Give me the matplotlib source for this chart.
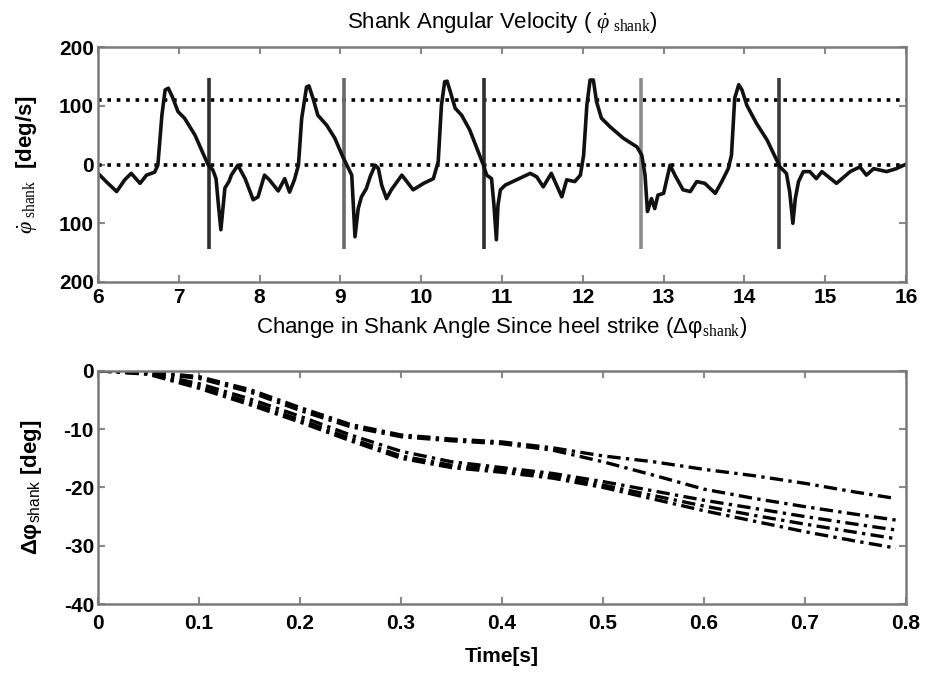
import matplotlib
matplotlib.use("Agg")
import matplotlib.pyplot as plt

plt.rcParams["font.family"] = ["Liberation Sans", "DejaVu Sans"]
plt.rcParams["mathtext.fontset"] = "custom"
plt.rcParams["mathtext.rm"] = "Liberation Serif"
plt.rcParams["mathtext.it"] = "Liberation Serif:italic"
plt.rcParams["mathtext.sf"] = "Liberation Sans"
plt.rcParams["axes.unicode_minus"] = False

# top panel: shank angular velocity trace (deg/s)
vel_t = [6.00, 6.10, 6.23, 6.33, 6.41, 6.52, 6.60, 6.70, 6.74, 6.79, 6.83, 6.87,
         6.92, 6.99, 7.07, 7.20, 7.28, 7.36, 7.42, 7.46, 7.49, 7.52, 7.55, 7.57,
         7.62, 7.65, 7.73, 7.82, 7.92, 7.98, 8.06, 8.12, 8.23, 8.31, 8.37, 8.43,
         8.48, 8.52, 8.58, 8.61, 8.66, 8.72, 8.83, 8.93, 9.03, 9.09, 9.14, 9.16,
         9.18, 9.22, 9.26, 9.32, 9.37, 9.43, 9.47, 9.51, 9.57, 9.63, 9.76, 9.90,
         10.03, 10.15, 10.21, 10.25, 10.29, 10.32, 10.36, 10.42, 10.50, 10.60, 10.69, 10.77,
         10.81, 10.87, 10.90, 10.93, 10.95, 10.98, 11.04, 11.18, 11.35, 11.43, 11.51, 11.61,
         11.70, 11.74, 11.80, 11.90, 11.97, 12.01, 12.05, 12.09, 12.13, 12.17, 12.23, 12.34,
         12.50, 12.67, 12.73, 12.77, 12.80, 12.85, 12.89, 12.93, 13.00, 13.08, 13.14, 13.24,
         13.33, 13.41, 13.51, 13.64, 13.72, 13.80, 13.84, 13.88, 13.93, 13.97, 14.03, 14.15,
         14.28, 14.38, 14.44, 14.52, 14.56, 14.60, 14.63, 14.67, 14.73, 14.81, 14.89, 14.96,
         15.14, 15.31, 15.43, 15.51, 15.60, 15.76, 15.88, 15.99]
vel = [-15, -29, -46, -26, -15, -32, -18, -13, -1, 84, 127, 130,
       115, 90, 79, 50, 25, 0, -9, -24, -69, -111, -69, -40,
       -29, -18, -1, -24, -60, -55, -18, -26, -45, -24, -47, -26,
       -1, 78, 132, 134, 113, 84, 67, 45, 13, -4, -18, -69,
       -123, -75, -55, -41, -20, -1, -7, -35, -58, -43, -18, -43,
       -32, -24, 5, 101, 141, 142, 124, 96, 84, 59, 27, -1,
       -18, -24, -69, -128, -69, -43, -35, -26, -15, -21, -38, -15,
       -43, -55, -26, -29, -18, 16, 101, 144, 144, 107, 79, 64,
       45, 30, 16, -18, -80, -58, -75, -52, -49, -1, -18, -43,
       -46, -29, -32, -49, -29, -7, 16, 113, 136, 127, 101, 70,
       42, 13, -4, -15, -46, -100, -58, -29, -12, -12, -24, -12,
       -32, -12, -4, -18, -7, -12, -7, 0]

thresholds = [110, 0]
strike_t = [7.37, 9.05, 10.78, 12.72, 14.43]
strike_colors = ["#2e2e2e", "#6a6a6a", "#2e2e2e", "#8c8c8c", "#3c3c3c"]

# bottom panel: change in shank angle since heel strike (deg)
dphi_t = [0, 0.05, 0.10, 0.15, 0.20, 0.25, 0.30, 0.35, 0.40, 0.45, 0.50,
          0.55, 0.60, 0.65, 0.70, 0.75, 0.79]
step_a = [0, -0.2, -1.0, -3.2, -6.3, -9.2, -11.0, -11.7, -12.2, -13.2, -14.6,
          -15.6, -16.9, -18.0, -19.3, -20.8, -21.9]
step_b = [0, -0.3, -1.3, -3.6, -6.8, -9.6, -11.3, -12.0, -12.5, -13.6, -15.6,
          -17.9, -20.3, -21.9, -23.3, -24.6, -25.6]
step_c = [0, -0.4, -2.2, -4.8, -7.8, -11.0, -13.8, -15.6, -16.6, -17.6, -19.0,
          -20.6, -22.2, -23.6, -25.0, -26.3, -27.3]
step_d = [0, -0.5, -2.7, -5.4, -8.4, -11.6, -14.6, -16.2, -17.0, -18.0, -19.6,
          -21.4, -23.2, -24.8, -26.3, -27.7, -28.8]
step_e = [0, -0.6, -3.0, -5.8, -8.8, -12.0, -15.0, -16.6, -17.4, -18.4, -20.0,
          -22.0, -24.0, -25.8, -27.6, -29.2, -30.4]
steps = [step_a, step_b, step_c, step_d, step_e]

top_xticks = list(range(6, 17))
top_yticks = [-200, -100, 0, 100, 200]
top_ylabels = ["200", "100", "0", "100", "200"]
bot_xticks = [0, 0.1, 0.2, 0.3, 0.4, 0.5, 0.6, 0.7, 0.8]
bot_xlabels = ["0", "0.1", "0.2", "0.3", "0.4", "0.5", "0.6", "0.7", "0.8"]
bot_yticks = [0, -10, -20, -30, -40]


def style_axes(ax, xpad):
    for side in ax.spines.values():
        side.set_color("#7a7a7a")
        side.set_linewidth(1.8)
    ax.tick_params(direction="in", length=5, width=1.5, color="#8a8a8a",
                   top=True, right=True, labelsize=15, pad=3)
    ax.tick_params(axis="x", pad=xpad)
    for lab in ax.get_xticklabels() + ax.get_yticklabels():
        lab.set_fontweight("bold")


fig = plt.figure(figsize=(9.34, 6.73), dpi=100)
ax1 = fig.add_axes([0.105, 0.581, 0.865, 0.349])
ax2 = fig.add_axes([0.105, 0.1025, 0.865, 0.3465])

for y in thresholds:
    ax1.axhline(y, color="black", linestyle=(0, (1, 1.6)), linewidth=2.6)
for t, c in zip(strike_t, strike_colors):
    ax1.vlines(t, -143, 147, color=c, linewidth=2.6)
ax1.plot(vel_t, vel, color="#111111", linewidth=2.6)
ax1.set_xlim(6, 16)
ax1.set_ylim(-200, 200)
ax1.set_xticks(top_xticks)
ax1.set_yticks(top_yticks)
ax1.set_yticklabels(top_ylabels)
style_axes(ax1, 4)
ax1.set_title(r"Shank Angular Velocity ( $\dot{\varphi}_{\ \mathrm{shank}}$)",
              fontsize=16, pad=14)
ax1.set_ylabel(r"$\dot{\varphi}_{\ \mathrm{shank}}$  [deg/s]", fontsize=16,
               fontweight="bold", labelpad=14)

for s in steps:
    ax2.plot(dphi_t, s, color="black", linestyle=(0, (4, 1.6, 1, 1.6)),
             linewidth=2.4)
ax2.set_xlim(0, 0.8)
ax2.set_ylim(-40, 0)
ax2.set_xticks(bot_xticks)
ax2.set_xticklabels(bot_xlabels)
ax2.set_yticks(bot_yticks)
style_axes(ax2, 7)
ax2.set_title(r"Change in Shank Angle Since heel strike (Δφ$_{\mathrm{shank}}$)",
              fontsize=16, pad=27)
ax2.set_ylabel(r"Δφ$_{\mathsf{shank}}$ [deg]", fontsize=16, fontweight="bold",
               labelpad=14)
ax2.set_xlabel("Time[s]", fontsize=15, fontweight="bold", labelpad=10)

fig.savefig("out.png", dpi=100)
